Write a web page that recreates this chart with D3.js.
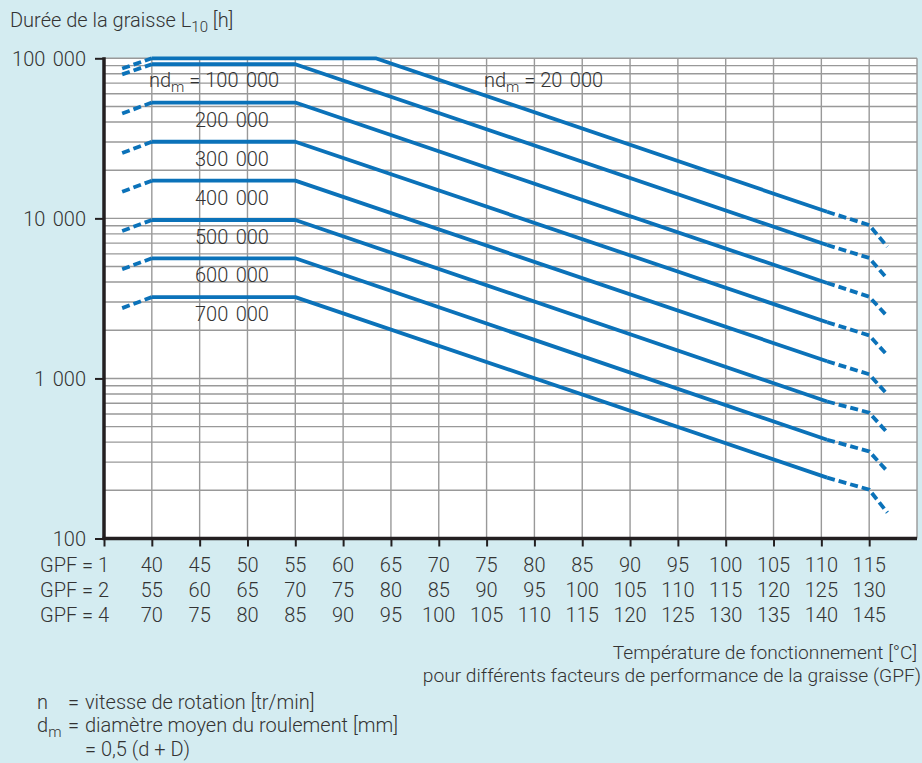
<!DOCTYPE html>
<html>
<head>
<meta charset="utf-8">
<script src="https://cdn.jsdelivr.net/npm/d3@7"></script>
<style>
  html, body { margin: 0; padding: 0; background: #d4ecf1; }
  svg { display: block; }
  text { font-family: Roboto, "Liberation Sans", sans-serif; font-weight: 300; fill: #333; }
</style>
</head>
<body>
<svg id="chart" width="922" height="763"></svg>
<script>
// ---------- data ----------
const curveNd      = ["20 000", "100 000", "200 000", "300 000", "400 000", "500 000", "600 000", "700 000"];
const startLife    = [86300, 79400, 45200, 25600, 14660, 8340, 4810, 2750];   // dashed start (36.9 °C)
const plateauLife  = [100000, 91800, 52900, 30100, 17200, 9770, 5630, 3220]; // flat part from 40 °C
const breakTemp    = [63.4, 55, 55, 55, 55, 55, 55, 55];                     // end of flat part
const solidEndLife = [10990, 6820, 3950, 2245, 1280, 718, 414, 240];          // end of solid line (110.6 °C)
const life115      = [9080, 5660, 3240, 1858, 1062, 611, 350, 202];           // at 115 °C
const endLife      = [6650, 4190, 2440, 1395, 794, 458, 263, 145];            // dashed end (116.9 °C)
const tempStart = 36.9, tempPlateau = 40, tempSolidEnd = 110.6, temp115 = 115, tempEnd = 116.9;

const gpfNames = ["GPF = 1", "GPF = 2", "GPF = 4"];
const gpf1Labels = [40, 45, 50, 55, 60, 65, 70, 75, 80, 85, 90, 95, 100, 105, 110, 115];
const gpf2Labels = [55, 60, 65, 70, 75, 80, 85, 90, 95, 100, 105, 110, 115, 120, 125, 130];
const gpf4Labels = [70, 75, 80, 85, 90, 95, 100, 105, 110, 115, 120, 125, 130, 135, 140, 145];
const yTickValues = [100, 1000, 10000, 100000];
const yTickLabels = ["100", "1 000", "10 000", "100 000"];

// ---------- layout ----------
const svg = d3.select("#chart");
const L = 104, R = 917, T = 58.3, B = 538.5;
const x = d3.scaleLinear().domain([35, 120]).range([L, R]);
const y = d3.scaleLog().domain([100, 100000]).range([B, T]);
const NUM_WS = 2.5; // slightly wider thousands separator

svg.append("rect").attr("x", 0).attr("y", 0).attr("width", 922).attr("height", 763).attr("fill", "#d4ecf1");
svg.append("rect").attr("x", L).attr("y", T).attr("width", R - L).attr("height", B - T).attr("fill", "#fff");

// grid
const grid = svg.append("g").attr("stroke", "#999").attr("stroke-width", 1.4);
grid.selectAll("line.h").data(y.ticks().filter(v => v > 100)).join("line")
  .attr("x1", L).attr("x2", R).attr("y1", d => y(d)).attr("y2", d => y(d));
grid.selectAll("line.v").data(gpf1Labels.concat([120])).join("line")
  .attr("x1", d => x(d)).attr("x2", d => x(d)).attr("y1", T).attr("y2", B);

// curves
const line = d3.line().x(d => x(d[0])).y(d => y(d[1]));
const cg = svg.append("g").attr("fill", "none").attr("stroke", "#0b72b9").attr("stroke-width", 3.8);
curveNd.forEach((nd, i) => {
  cg.append("path").attr("d", line([[tempStart, startLife[i]], [tempPlateau, plateauLife[i]]]))
    .attr("stroke-dasharray", "8,4");
  cg.append("path").attr("d", line([[tempPlateau, plateauLife[i]], [breakTemp[i], plateauLife[i]], [tempSolidEnd, solidEndLife[i]]]))
    .attr("stroke-linejoin", "round");
  cg.append("path").attr("d", line([[tempSolidEnd, solidEndLife[i]], [temp115, life115[i]], [tempEnd, endLife[i]]]))
    .attr("stroke-dasharray", "8,4");
});

// curve labels
const fs = 20;
function ndLabel(xp, yp, val) {
  const t = svg.append("text").attr("x", xp).attr("y", yp).attr("font-size", fs);
  t.append("tspan").text("nd");
  t.append("tspan").attr("font-size", 15).attr("dy", 5).text("m");
  t.append("tspan").attr("dy", -5).text(" = ");
  t.append("tspan").attr("word-spacing", NUM_WS).text(val);
}
ndLabel(149, 87, curveNd[1]);
ndLabel(484, 87, curveNd[0]);
svg.selectAll("text.cl").data(curveNd.slice(2)).join("text")
  .attr("class", "cl").attr("font-size", fs).attr("word-spacing", NUM_WS)
  .attr("x", 195).attr("y", (d, i) => y(plateauLife[i + 2]) + 24)
  .text(d => d);

// axes
const yAxis = d3.axisLeft(y).tickValues(yTickValues).tickSize(9).tickPadding(9)
  .tickFormat((d, i) => yTickLabels[i]);
const gy = svg.append("g").attr("transform", `translate(${L},0)`).call(yAxis);
gy.select(".domain").remove();
gy.selectAll(".tick line").attr("stroke", "#231f20").attr("stroke-width", 2);
gy.selectAll(".tick text").attr("font-size", fs).attr("font-family", null).attr("fill", "#333")
  .attr("dy", "0.36em").attr("word-spacing", NUM_WS);

const xAxis = d3.axisBottom(x).tickValues([35].concat(gpf1Labels)).tickSize(8).tickFormat("");
const gx = svg.append("g").attr("transform", `translate(0,${B})`).call(xAxis);
gx.select(".domain").remove();
gx.selectAll(".tick line").attr("stroke", "#231f20").attr("stroke-width", 2);

// axis lines
svg.append("line").attr("x1", L).attr("x2", L).attr("y1", T - 1).attr("y2", B + 1.5)
  .attr("stroke", "#231f20").attr("stroke-width", 3.5);
svg.append("line").attr("x1", L - 1.5).attr("x2", R).attr("y1", B).attr("y2", B)
  .attr("stroke", "#231f20").attr("stroke-width", 3.5);

// GPF rows
const rows = [gpf1Labels, gpf2Labels, gpf4Labels];
const rowY = [571.7, 596.7, 621.7];
rows.forEach((labels, r) => {
  svg.append("text").attr("x", 40).attr("y", rowY[r]).attr("font-size", fs).text(gpfNames[r]);
  svg.selectAll("text.r" + r).data(labels).join("text")
    .attr("class", "r" + r).attr("font-size", fs).attr("text-anchor", "middle")
    .attr("x", (d, i) => x(gpf1Labels[i])).attr("y", rowY[r]).text(d => d);
});

// titles
const title = svg.append("text").attr("x", 10).attr("y", 27).attr("font-size", fs);
title.append("tspan").text("Durée de la graisse L");
title.append("tspan").attr("font-size", 15).attr("dy", 5).text("10");
title.append("tspan").attr("dy", -5).text(" [h]");

svg.append("text").attr("x", 917).attr("y", 659).attr("font-size", 19.2).attr("text-anchor", "end")
  .text("Température de fonctionnement [°C]");
svg.append("text").attr("x", 921).attr("y", 682).attr("font-size", 19.2).attr("text-anchor", "end")
  .text("pour différents facteurs de performance de la graisse (GPF)");

// legend
const lg = svg.append("g").attr("font-size", fs);
const legY = [708.5, 732, 755.5];
lg.append("text").attr("x", 37).attr("y", legY[0]).text("n");
lg.append("text").attr("x", 68).attr("y", legY[0]).text("=");
lg.append("text").attr("x", 85).attr("y", legY[0]).text("vitesse de rotation [tr/min]");
const dm = lg.append("text").attr("x", 37).attr("y", legY[1]);
dm.append("tspan").text("d");
dm.append("tspan").attr("font-size", 15).attr("dy", 4.5).text("m");
lg.append("text").attr("x", 68).attr("y", legY[1]).text("=");
lg.append("text").attr("x", 85).attr("y", legY[1]).text("diamètre moyen du roulement [mm]");
lg.append("text").attr("x", 85).attr("y", legY[2]).text("= 0,5 (d + D)");
</script>
</body>
</html>
